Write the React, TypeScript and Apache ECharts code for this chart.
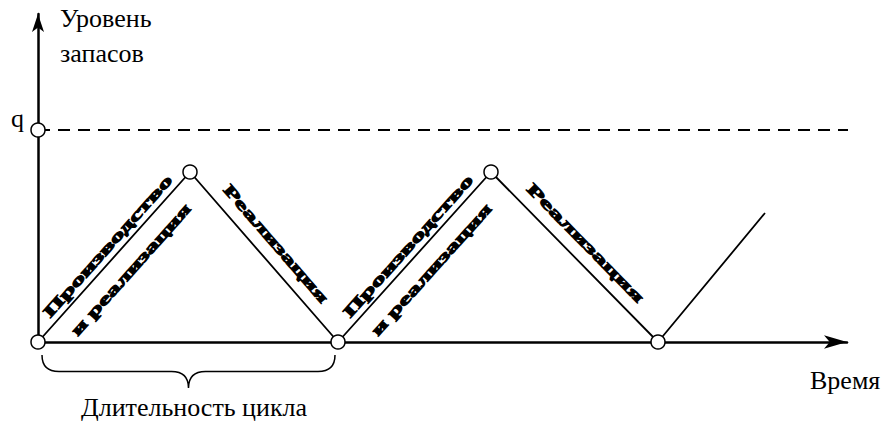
import React, { useEffect, useRef } from "react";
import * as echarts from "echarts";

// ---- data (units) ----
const cycleTimes = [0, 152, 300, 453, 620, 727];
const stockLevels = [0, 170, 0, 170, 0, 129];
const markedPoints = [true, true, true, true, true, false];
const orderQuantity = 212;
const orderLabel = "q";
const timeAxisMax = 809;
const stockAxisMax = 328;
const dashedLineEnd = 849;
const segmentUpperLabels = ["Производство", "Реализация", "Производство", "Реализация"];
const segmentLowerLabels = ["и реализация", "", "и реализация", ""];
const cycleStart = 0;
const cycleEnd = 300;
const cycleLabel = "Длительность цикла";
const yAxisTitle = ["Уровень", "запасов"];
const xAxisTitle = "Время";

const SERIF = "Liberation Serif, Times New Roman, serif";
const TITLE_FONT_SIZE = 26;
const LABEL_FONT_SIZE = 16;

let measureCtx: CanvasRenderingContext2D | null = null;
function measure(text: string): number {
  if (!measureCtx) {
    const c = document.createElement("canvas");
    measureCtx = c.getContext("2d");
  }
  if (!measureCtx) return text.length * 8;
  measureCtx.font = `bold ${LABEL_FONT_SIZE}px "Liberation Serif", serif`;
  return measureCtx.measureText(text).width;
}

export default function App() {
  const ref = useRef<HTMLDivElement>(null);

  useEffect(() => {
    if (!ref.current) return;
    const chart = echarts.init(ref.current, undefined, { renderer: "svg" });

    const segments = cycleTimes.slice(0, -2).map((x, i) => [
      x,
      stockLevels[i],
      cycleTimes[i + 1],
      stockLevels[i + 1],
    ]);

    const titleStyle = (text: string, extra: any = {}) => ({
      text,
      fontSize: TITLE_FONT_SIZE,
      fontFamily: SERIF,
      fill: "#000",
      verticalAlign: "middle",
      ...extra,
    });

    const option: any = {
      animation: false,
      grid: { left: 38, right: 40, top: 14, bottom: 81, containLabel: false },
      xAxis: {
        type: "value",
        min: 0,
        max: timeAxisMax,
        axisLine: {
          show: true,
          symbol: ["none", "arrow"],
          symbolSize: [10, 23],
          lineStyle: { color: "#000", width: 2.5 },
        },
        axisTick: { show: false },
        axisLabel: { show: false },
        splitLine: { show: false },
      },
      yAxis: {
        type: "value",
        min: 0,
        max: stockAxisMax,
        axisLine: {
          show: true,
          symbol: ["none", "arrow"],
          symbolSize: [9, 18],
          lineStyle: { color: "#000", width: 2.5 },
        },
        axisTick: { show: false },
        axisLabel: { show: false },
        splitLine: { show: false },
      },
      graphic: [
        { type: "text", x: 60, y: 18, style: titleStyle(yAxisTitle[0]) },
        { type: "text", x: 60, y: 53, style: titleStyle(yAxisTitle[1]) },
        { type: "text", x: 24, y: 118, style: titleStyle(orderLabel, { align: "right" }) },
        { type: "text", x: 810, y: 380, style: titleStyle(xAxisTitle) },
      ],
      series: [
        {
          type: "line",
          data: [
            [0, orderQuantity],
            [dashedLineEnd, orderQuantity],
          ],
          symbol: "none",
          clip: false,
          silent: true,
          lineStyle: { color: "#000", width: 2, type: [12, 8] },
          z: 2,
        },
        {
          type: "line",
          data: cycleTimes.map((x, i) => ({
            value: [x, stockLevels[i]],
            symbol: markedPoints[i] ? "circle" : "none",
          })),
          showSymbol: true,
          symbolSize: 14,
          silent: true,
          lineStyle: { color: "#000", width: 1.8 },
          itemStyle: { color: "#fff", borderColor: "#000", borderWidth: 1.5 },
          z: 4,
        },
        {
          type: "scatter",
          data: [[0, orderQuantity]],
          symbol: "circle",
          symbolSize: 14,
          silent: true,
          itemStyle: { color: "#fff", borderColor: "#000", borderWidth: 1.5, opacity: 1 },
          z: 5,
        },
        {
          type: "custom",
          silent: true,
          clip: false,
          z: 3,
          data: segments,
          renderItem: (params: any, api: any) => {
            const i = params.dataIndex;
            const p0 = api.coord([api.value(0), api.value(1)]);
            const p1 = api.coord([api.value(2), api.value(3)]);
            const dx = p1[0] - p0[0];
            const dy = p1[1] - p0[1];
            const L = Math.hypot(dx, dy);
            const ux = dx / L;
            const uy = dy / L;
            const nx = uy;
            const ny = -ux;
            const rot = Math.atan2(-uy, ux);
            const rising = dy < 0;
            const children: any[] = [];
            const place = (text: string, t: number, d: number, frac: number) => {
              if (!text) return;
              const w = measure(text);
              children.push({
                type: "text",
                x: p0[0] + dx * t + nx * d,
                y: p0[1] + dy * t + ny * d,
                rotation: rot,
                scaleX: (frac * L) / w,
                style: {
                  text,
                  fontSize: LABEL_FONT_SIZE,
                  fontWeight: "bold",
                  fontFamily: SERIF,
                  fill: "#000",
                  stroke: "#000",
                  lineWidth: 1,
                  align: "center",
                  verticalAlign: "middle",
                },
              });
            };
            if (rising) {
              place(segmentUpperLabels[i], 0.517, 12, 0.81);
              place(segmentLowerLabels[i], 0.508, -21, 0.75);
            } else {
              place(segmentUpperLabels[i], 0.49, 18, 0.67);
            }
            return { type: "group", children };
          },
        },
        {
          type: "custom",
          silent: true,
          clip: false,
          z: 3,
          data: [[cycleStart, 0, cycleEnd, 0]],
          renderItem: (params: any, api: any) => {
            const p0 = api.coord([api.value(0), api.value(1)]);
            const p1 = api.coord([api.value(2), api.value(3)]);
            const x0 = p0[0] + 4;
            const x1 = p1[0] - 3;
            const xm = (x0 + x1) / 2;
            const y0 = p0[1] + 13;
            const h = 16.5;
            const r = 17;
            const d =
              `M${x0},${y0} Q${x0},${y0 + h} ${x0 + r},${y0 + h} ` +
              `L${xm - r},${y0 + h} Q${xm},${y0 + h} ${xm},${y0 + 2 * h} ` +
              `Q${xm},${y0 + h} ${xm + r},${y0 + h} ` +
              `L${x1 - r},${y0 + h} Q${x1},${y0 + h} ${x1},${y0}`;
            return {
              type: "group",
              children: [
                {
                  type: "path",
                  shape: { pathData: d },
                  style: { fill: "none", stroke: "#000", lineWidth: 1.5 },
                },
                {
                  type: "text",
                  x: xm + 5.5,
                  y: y0 + 52,
                  style: titleStyle(cycleLabel, { align: "center" }),
                },
              ],
            };
          },
        },
      ],
    };

    chart.setOption(option);
    return () => chart.dispose();
  }, []);

  return (
    <div
      ref={ref}
      style={{ position: "absolute", left: 0, top: 0, width: 887, height: 423, background: "#fff" }}
    />
  );
}
